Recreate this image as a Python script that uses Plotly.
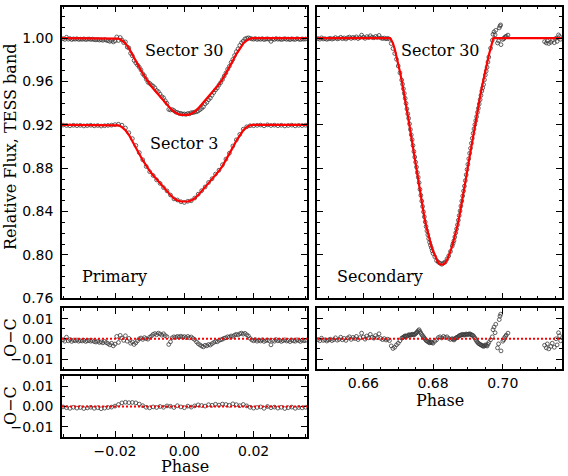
import plotly.graph_objects as go

# %% data -- primary eclipse, Sector 30 (phase, flux, O-C)
pri30_phase = [
    -0.0350, -0.0345, -0.0340, -0.0335, -0.0330, -0.0325, -0.0320, -0.0315, -0.0310, -0.0305,
    -0.0300, -0.0295, -0.0290, -0.0285, -0.0280, -0.0275, -0.0270, -0.0265, -0.0260, -0.0255,
    -0.0250, -0.0245, -0.0240, -0.0235, -0.0230, -0.0225, -0.0220, -0.0215, -0.0210, -0.0205,
    -0.0200, -0.0195, -0.0190, -0.0185, -0.0180, -0.0175, -0.0170, -0.0165, -0.0160, -0.0155,
    -0.0150, -0.0145, -0.0140, -0.0135, -0.0130, -0.0125, -0.0120, -0.0115, -0.0110, -0.0105,
    -0.0100, -0.0095, -0.0090, -0.0085, -0.0080, -0.0075, -0.0070, -0.0065, -0.0060, -0.0055,
    -0.0050, -0.0045, -0.0040, -0.0035, -0.0030, -0.0025, -0.0020, -0.0015, -0.0010, -0.0005,
    0.0000, 0.0005, 0.0010, 0.0015, 0.0020, 0.0025, 0.0030, 0.0035, 0.0040, 0.0045,
    0.0050, 0.0055, 0.0060, 0.0065, 0.0070, 0.0075, 0.0080, 0.0085, 0.0090, 0.0095,
    0.0100, 0.0105, 0.0110, 0.0115, 0.0120, 0.0125, 0.0130, 0.0135, 0.0140, 0.0145,
    0.0150, 0.0155, 0.0160, 0.0165, 0.0170, 0.0175, 0.0180, 0.0185, 0.0190, 0.0195,
    0.0200, 0.0205, 0.0210, 0.0215, 0.0220, 0.0225, 0.0230, 0.0235, 0.0240, 0.0245,
    0.0250, 0.0255, 0.0260, 0.0265, 0.0270, 0.0275, 0.0280, 0.0285, 0.0290, 0.0295,
    0.0300, 0.0305, 0.0310, 0.0315, 0.0320, 0.0325, 0.0330, 0.0335, 0.0340, 0.0345,
    0.0350]
pri30_flux = [
    0.9995, 0.9988, 1.0008, 0.9990, 0.9996, 0.9987, 0.9993, 0.9990, 0.9994, 0.9988,
    0.9991, 0.9989, 0.9993, 0.9987, 0.9990, 0.9992, 0.9988, 0.9991, 0.9986, 0.9984,
    0.9988, 0.9982, 0.9985, 0.9980, 0.9987, 0.9981, 0.9976, 0.9970, 0.9978, 0.9965,
    0.9974, 1.0011, 0.9978, 1.0006, 0.9983, 0.9958, 0.9965, 0.9918, 0.9910, 0.9860,
    0.9837, 0.9794, 0.9772, 0.9752, 0.9732, 0.9707, 0.9671, 0.9653, 0.9621, 0.9593,
    0.9583, 0.9569, 0.9557, 0.9542, 0.9517, 0.9506, 0.9484, 0.9460, 0.9450, 0.9422,
    0.9398, 0.9342, 0.9337, 0.9341, 0.9332, 0.9318, 0.9315, 0.9306, 0.9306, 0.9299,
    0.9301, 0.9297, 0.9305, 0.9302, 0.9312, 0.9313, 0.9318, 0.9321, 0.9328, 0.9340,
    0.9352, 0.9366, 0.9393, 0.9407, 0.9432, 0.9447, 0.9473, 0.9498, 0.9522, 0.9540,
    0.9567, 0.9590, 0.9618, 0.9650, 0.9679, 0.9713, 0.9740, 0.9776, 0.9804, 0.9840,
    0.9875, 0.9901, 0.9933, 0.9958, 0.9973, 0.9993, 0.9999, 1.0003, 0.9998, 0.9993,
    0.9990, 0.9996, 0.9988, 0.9993, 0.9989, 0.9995, 0.9987, 0.9991, 0.9994, 0.9990,
    0.9970, 0.9992, 0.9988, 0.9996, 0.9990, 0.9993, 0.9987, 0.9991, 0.9995, 0.9989,
    0.9992, 0.9986, 0.9994, 0.9990, 0.9988, 0.9995, 0.9991, 0.9987, 0.9993, 0.9990,
    0.9992]
pri30_oc = [
    -0.0005, -0.0012, 0.0008, -0.0010, -0.0004, -0.0013, -0.0007, -0.0010, -0.0006, -0.0012,
    -0.0009, -0.0011, -0.0007, -0.0013, -0.0010, -0.0008, -0.0012, -0.0009, -0.0014, -0.0016,
    -0.0012, -0.0018, -0.0015, -0.0020, -0.0013, -0.0019, -0.0024, -0.0030, -0.0022, -0.0035,
    -0.0026, 0.0012, -0.0018, 0.0017, 0.0004, -0.0008, 0.0015, -0.0012, 0.0002, -0.0022,
    -0.0016, -0.0028, -0.0020, -0.0010, 0.0000, 0.0004, -0.0003, 0.0006, 0.0001, -0.0002,
    0.0008, 0.0014, 0.0022, 0.0026, 0.0020, 0.0028, 0.0024, 0.0018, 0.0025, 0.0016,
    0.0010, -0.0028, -0.0015, 0.0005, 0.0010, 0.0007, 0.0012, 0.0009, 0.0013, 0.0008,
    0.0011, 0.0006, 0.0012, 0.0005, 0.0009, 0.0002, -0.0004, -0.0015, -0.0024, -0.0030,
    -0.0036, -0.0040, -0.0032, -0.0035, -0.0028, -0.0031, -0.0024, -0.0018, -0.0013, -0.0015,
    -0.0008, -0.0005, -0.0002, 0.0003, 0.0005, 0.0010, 0.0008, 0.0014, 0.0012, 0.0018,
    0.0022, 0.0019, 0.0025, 0.0028, 0.0023, 0.0027, 0.0020, 0.0014, 0.0002, -0.0006,
    -0.0010, -0.0004, -0.0012, -0.0007, -0.0011, -0.0005, -0.0013, -0.0009, -0.0006, -0.0010,
    -0.0030, -0.0008, -0.0012, -0.0004, -0.0010, -0.0007, -0.0013, -0.0009, -0.0005, -0.0011,
    -0.0008, -0.0014, -0.0006, -0.0010, -0.0012, -0.0005, -0.0009, -0.0013, -0.0007, -0.0010,
    -0.0008]

# %% primary eclipse, Sector 3
pri3_phase = [
    -0.035, -0.034, -0.033, -0.032, -0.031, -0.030, -0.029, -0.028, -0.027, -0.026,
    -0.025, -0.024, -0.023, -0.022, -0.021, -0.020, -0.019, -0.018, -0.017, -0.016,
    -0.015, -0.014, -0.013, -0.012, -0.011, -0.010, -0.009, -0.008, -0.007, -0.006,
    -0.005, -0.004, -0.003, -0.002, -0.001, 0.000, 0.001, 0.002, 0.003, 0.004,
    0.005, 0.006, 0.007, 0.008, 0.009, 0.010, 0.011, 0.012, 0.013, 0.014,
    0.015, 0.016, 0.017, 0.018, 0.019, 0.020, 0.021, 0.022, 0.023, 0.024,
    0.025, 0.026, 0.027, 0.028, 0.029, 0.030, 0.031, 0.032, 0.033, 0.034,
    0.035]
pri3_flux = [
    0.9198, 0.9194, 0.9191, 0.9196, 0.9192, 0.9195, 0.9190, 0.9193, 0.9196, 0.9191,
    0.9194, 0.9189, 0.9192, 0.9195, 0.9197, 0.9202, 0.9206, 0.9197, 0.9171, 0.9127,
    0.9073, 0.9010, 0.8944, 0.8878, 0.8816, 0.8768, 0.8733, 0.8692, 0.8660, 0.8621,
    0.8591, 0.8553, 0.8517, 0.8507, 0.8491, 0.8484, 0.8495, 0.8500, 0.8525, 0.8560,
    0.8593, 0.8627, 0.8669, 0.8703, 0.8746, 0.8782, 0.8832, 0.8884, 0.8938, 0.9005,
    0.9062, 0.9112, 0.9160, 0.9182, 0.9192, 0.9192, 0.9195, 0.9198, 0.9191, 0.9200,
    0.9194, 0.9197, 0.9192, 0.9196, 0.9190, 0.9194, 0.9197, 0.9191, 0.9195, 0.9193,
    0.9196]
pri3_oc = [
    -0.0002, -0.0006, -0.0009, -0.0004, -0.0008, -0.0005, -0.0010, -0.0007, -0.0004, -0.0009,
    -0.0006, -0.0011, -0.0008, -0.0005, -0.0003, 0.0002, 0.0010, 0.0018, 0.0021, 0.0019,
    0.0020, 0.0018, 0.0012, 0.0004, -0.0004, -0.0007, -0.0002, -0.0005, 0.0000, -0.0004,
    0.0003, 0.0001, -0.0005, 0.0004, -0.0002, -0.0006, 0.0002, -0.0003, 0.0003, 0.0008,
    0.0005, 0.0002, 0.0009, 0.0006, 0.0011, 0.0007, 0.0012, 0.0010, 0.0006, 0.0013,
    0.0009, 0.0004, 0.0010, 0.0003, -0.0004, -0.0008, -0.0005, -0.0002, -0.0009, 0.0000,
    -0.0006, -0.0003, -0.0008, -0.0004, -0.0010, -0.0006, -0.0003, -0.0009, -0.0005, -0.0007,
    -0.0004]

# %% model curves for the primary eclipse
model_pri_phase = [
    -0.036, -0.0198, -0.019, -0.018, -0.017, -0.016, -0.015, -0.014, -0.013, -0.012, -0.011,
    -0.010, -0.009, -0.008, -0.007, -0.006, -0.005, -0.004, -0.003, -0.002, -0.001,
    0.000, 0.001, 0.002, 0.003, 0.004, 0.005, 0.006, 0.007, 0.008, 0.009, 0.010,
    0.011, 0.012, 0.013, 0.014, 0.015, 0.016, 0.017, 0.018, 0.019, 0.0198, 0.036]
model_pri30 = [
    1.0000, 1.0000, 0.9996, 0.9979, 0.9950, 0.9908, 0.9853, 0.9792, 0.9732, 0.9674, 0.9620,
    0.9575, 0.9535, 0.9497, 0.9460, 0.9425, 0.9388, 0.9352, 0.9322, 0.9303, 0.9293,
    0.9290, 0.9293, 0.9303, 0.9322, 0.9352, 0.9388, 0.9425, 0.9460, 0.9497, 0.9535, 0.9575,
    0.9620, 0.9674, 0.9732, 0.9792, 0.9853, 0.9908, 0.9950, 0.9979, 0.9996, 1.0000, 1.0000]
model_pri3 = [
    0.9200, 0.9200, 0.9196, 0.9179, 0.9150, 0.9108, 0.9053, 0.8992, 0.8932, 0.8874, 0.8820,
    0.8775, 0.8735, 0.8697, 0.8660, 0.8625, 0.8588, 0.8552, 0.8522, 0.8503, 0.8493,
    0.8490, 0.8493, 0.8503, 0.8522, 0.8552, 0.8588, 0.8625, 0.8660, 0.8697, 0.8735, 0.8775,
    0.8820, 0.8874, 0.8932, 0.8992, 0.9053, 0.9108, 0.9150, 0.9179, 0.9196, 0.9200, 0.9200]

# %% secondary eclipse, Sector 30
sec_phase = [
    0.6470, 0.6475, 0.6480, 0.6485, 0.6490, 0.6495, 0.6500, 0.6505, 0.6510, 0.6515,
    0.6520, 0.6525, 0.6530, 0.6535, 0.6540, 0.6545, 0.6550, 0.6555, 0.6560, 0.6565,
    0.6570, 0.6575, 0.6580, 0.6585, 0.6590, 0.6595, 0.6600, 0.6605, 0.6610, 0.6615,
    0.6620, 0.6625, 0.6630, 0.6635, 0.6640, 0.6645, 0.6650, 0.6655, 0.6660, 0.6665,
    0.6670, 0.6675, 0.6680, 0.6685, 0.6690, 0.6695, 0.6700, 0.6705, 0.6710, 0.6715,
    0.6720, 0.6725, 0.6730, 0.6735, 0.6740, 0.6745, 0.6750, 0.6755, 0.6760, 0.6765,
    0.6770, 0.6775, 0.6780, 0.6785, 0.6790, 0.6795, 0.6800, 0.6805, 0.6810, 0.6815,
    0.6820, 0.6825, 0.6830, 0.6835, 0.6840, 0.6845, 0.6850, 0.6855, 0.6860, 0.6865,
    0.6870, 0.6875, 0.6880, 0.6885, 0.6890, 0.6895, 0.6900, 0.6905, 0.6910, 0.6915,
    0.6920, 0.6925, 0.6930, 0.6935, 0.6940, 0.6945, 0.6950, 0.6955, 0.6960, 0.6965,
    0.6970, 0.6975, 0.6980, 0.6985, 0.6990, 0.6995, 0.7000, 0.7005, 0.7010, 0.7015,
    0.67125, 0.67175, 0.67225, 0.67275, 0.67325, 0.67375, 0.67425, 0.67475, 0.67525,
    0.67575, 0.67625, 0.67675, 0.67725, 0.67775, 0.67825, 0.67875, 0.67925, 0.67975,
    0.68575, 0.68625, 0.68675, 0.68725, 0.68775, 0.68825, 0.68875, 0.68925, 0.68975,
    0.69025, 0.69075, 0.69125, 0.69175, 0.69225, 0.69275, 0.69325, 0.69375, 0.69425,
    0.69475, 0.69525, 0.69575,
    0.6972, 0.6978, 0.6988, 0.6992, 0.6994, 0.7003, 0.7008,
    0.7120, 0.7125, 0.7128, 0.7132, 0.7138, 0.7142, 0.7148, 0.7153, 0.7156, 0.7160,
    0.7163, 0.7166]
sec_flux = [
    0.9996, 0.9990, 1.0003, 0.9992, 0.9995, 0.9989, 0.9994, 0.9998, 0.9991, 0.9996,
    1.0005, 0.9993, 0.9997, 1.0008, 0.9995, 1.0002, 0.9992, 1.0004, 1.0010, 0.9997,
    1.0007, 1.0001, 1.0012, 0.9996, 1.0006, 1.0028, 1.0009, 0.9998, 1.0014, 1.0005,
    1.0022, 1.0008, 1.0003, 1.0016, 1.0006, 1.0025, 1.0002, 0.9996, 1.0001, 0.9994,
    0.9998, 0.9991, 0.9950, 0.9904, 0.9858, 0.9805, 0.9743, 0.9680, 0.9613, 0.9533,
    0.9445, 0.9347, 0.9260, 0.9157, 0.9063, 0.8954, 0.8856, 0.8760, 0.8667, 0.8550,
    0.8447, 0.8352, 0.8262, 0.8186, 0.8117, 0.8066, 0.8013, 0.7983, 0.7948, 0.7934,
    0.7924, 0.7914, 0.7926, 0.7935, 0.7963, 0.7992, 0.8032, 0.8083, 0.8131, 0.8204,
    0.8278, 0.8363, 0.8451, 0.8544, 0.8635, 0.8739, 0.8836, 0.8938, 0.9030, 0.9121,
    0.9202, 0.9276, 0.9353, 0.9432, 0.9512, 0.9572, 0.9660, 0.9732, 0.9825, 0.9907,
    0.9980, 1.0058, 1.0072, 0.9955, 1.0095, 0.9940, 0.9988, 1.0006, 1.0018, 1.0028,
    0.9575, 0.9490, 0.9398, 0.9302, 0.9210, 0.9108, 0.9010, 0.8903, 0.8810,
    0.8716, 0.8605, 0.8497, 0.8398, 0.8305, 0.8222, 0.8150, 0.8090, 0.8038,
    0.8106, 0.8166, 0.8240, 0.8320, 0.8406, 0.8497, 0.8590, 0.8686, 0.8788,
    0.8887, 0.8984, 0.9076, 0.9162, 0.9239, 0.9315, 0.9393, 0.9472, 0.9542,
    0.9616, 0.9696, 0.9779,
    1.0035, 1.0030, 0.9975, 1.0112, 1.0122, 0.9995, 1.0012,
    0.9968, 0.9955, 0.9975, 0.9950, 0.9962, 0.9978, 0.9958, 1.0000, 0.9970, 1.0030,
    1.0015, 0.9990]
sec_oc = [
    -0.0004, -0.0010, 0.0003, -0.0008, -0.0005, -0.0011, -0.0006, -0.0002, -0.0009, -0.0004,
    0.0005, -0.0007, -0.0003, 0.0008, -0.0005, 0.0002, -0.0008, 0.0004, 0.0010, -0.0003,
    0.0007, 0.0001, 0.0012, -0.0004, 0.0006, 0.0028, 0.0009, -0.0002, 0.0014, 0.0005,
    0.0022, 0.0008, 0.0003, 0.0016, 0.0006, 0.0025, 0.0002, -0.0004, 0.0001, -0.0006,
    -0.0002, -0.0009, -0.0035, -0.0048, -0.0042, -0.0030, -0.0022, -0.0010, 0.0003, 0.0008,
    0.0015, 0.0012, 0.0020, 0.0017, 0.0023, 0.0019, 0.0026, 0.0035, 0.0045, 0.0028,
    0.0015, 0.0004, -0.0008, -0.0014, -0.0020, -0.0016, -0.0022, -0.0012, -0.0005, 0.0006,
    0.0010, 0.0004, 0.0012, 0.0007, 0.0010, 0.0002, -0.0003, 0.0001, -0.0006, 0.0004,
    0.0008, 0.0015, 0.0019, 0.0022, 0.0018, 0.0024, 0.0021, 0.0025, 0.0020, 0.0016,
    0.0004, -0.0012, -0.0022, -0.0028, -0.0033, -0.0038, -0.0030, -0.0036, -0.0018, -0.0005,
    0.0010, 0.0058, 0.0072, -0.0045, 0.0095, -0.0060, -0.0012, 0.0006, 0.0018, 0.0028,
    0.0005, 0.0012, 0.0013, 0.0016, 0.0019, 0.0020, 0.0021, 0.0022, 0.0030,
    0.0040, 0.0036, 0.0021, 0.0010, -0.0002, -0.0011, -0.0017, -0.0018, -0.0019,
    -0.0002, -0.0001, 0.0006, 0.0011, 0.0017, 0.0020, 0.0020, 0.0021, 0.0022,
    0.0023, 0.0022, 0.0018, 0.0010, -0.0004, -0.0017, -0.0025, -0.0030, -0.0035,
    -0.0034, -0.0033, -0.0027,
    0.0045, 0.0030, -0.0025, 0.0112, 0.0122, -0.0005, 0.0012,
    -0.0032, -0.0045, -0.0025, -0.0050, -0.0038, -0.0022, -0.0042, 0.0000, -0.0030, 0.0030,
    0.0015, -0.0010]

model_sec_phase = [
    0.6460, 0.6676, 0.6680, 0.6685, 0.6690, 0.6695, 0.6700, 0.6705, 0.6710, 0.6715,
    0.6720, 0.6725, 0.6730, 0.6735, 0.6740, 0.6745, 0.6750, 0.6755, 0.6760, 0.6765,
    0.6770, 0.6775, 0.6780, 0.6785, 0.6790, 0.6795, 0.6800, 0.6805, 0.6810, 0.6815,
    0.6820, 0.6825, 0.6830, 0.6835, 0.6840, 0.6845, 0.6850, 0.6855, 0.6860, 0.6865,
    0.6870, 0.6875, 0.6880, 0.6885, 0.6890, 0.6895, 0.6900, 0.6905, 0.6910, 0.6915,
    0.6920, 0.6925, 0.6930, 0.6935, 0.6940, 0.6945, 0.6950, 0.6955, 0.6960, 0.6965,
    0.6970, 0.6973, 0.7180]
model_sec = [
    1.0000, 1.0000, 0.9985, 0.9952, 0.9900, 0.9835, 0.9765, 0.9690, 0.9610, 0.9525,
    0.9430, 0.9335, 0.9240, 0.9140, 0.9040, 0.8935, 0.8830, 0.8725, 0.8622, 0.8522,
    0.8432, 0.8348, 0.8270, 0.8200, 0.8137, 0.8082, 0.8035, 0.7995, 0.7953, 0.7928,
    0.7914, 0.7910, 0.7914, 0.7928, 0.7953, 0.7990, 0.8035, 0.8082, 0.8137, 0.8200,
    0.8270, 0.8348, 0.8432, 0.8522, 0.8617, 0.8715, 0.8815, 0.8913, 0.9010, 0.9105,
    0.9198, 0.9288, 0.9375, 0.9460, 0.9545, 0.9610, 0.9690, 0.9768, 0.9843, 0.9912,
    0.9970, 1.0000, 1.0000]

# %% figure
W, H = 568, 476
RED = "#ff0000"
PT = dict(symbol="circle-open", size=3.8, color="#3a3a3a", line=dict(width=0.8, color="#3a3a3a"))
SERIF = "DejaVu Serif"
SANS = "DejaVu Sans"

fig = go.Figure()

def pts(x, y, xa, ya):
    fig.add_trace(go.Scatter(x=x, y=y, mode="markers", marker=PT, xaxis=xa, yaxis=ya,
                             showlegend=False, hoverinfo="skip"))

def model(x, y, xa, ya):
    fig.add_trace(go.Scatter(x=x, y=y, mode="lines", line=dict(color=RED, width=2.2),
                             xaxis=xa, yaxis=ya, showlegend=False, hoverinfo="skip"))

pts(pri30_phase, pri30_flux, "x", "y")
pts(pri3_phase, pri3_flux, "x", "y")
model(model_pri_phase, model_pri30, "x", "y")
model(model_pri_phase, model_pri3, "x", "y")
pts(sec_phase, sec_flux, "x2", "y2")
model(model_sec_phase, model_sec, "x2", "y2")
pts(pri30_phase, pri30_oc, "x3", "y3")
pts(sec_phase, sec_oc, "x4", "y4")
pts(pri3_phase, pri3_oc, "x5", "y5")

def ax(domain, rng, dtick, minor, labels, tick0=0, anchor=None, standoff=0):
    return dict(domain=domain, range=rng, dtick=dtick, tick0=tick0, anchor=anchor,
                showline=True, linecolor="black", linewidth=1.5, mirror="ticks",
                ticks="inside", ticklen=6, tickwidth=1.1, tickcolor="black",
                minor=dict(ticks="inside", ticklen=3, tickwidth=1.1, tickcolor="black", dtick=minor),
                showgrid=False, zeroline=False, showticklabels=labels, tickformat=".2f",
                ticklabelstandoff=standoff,
                tickfont=dict(family=SANS, size=14, color="black"))

xL = [62 / W, 307 / W]
xR = [317 / W, 562 / W]
yTop = [1 - 298.3 / H, 1 - 6.7 / H]
yMid = [1 - 369.3 / H, 1 - 308.3 / H]
yBot = [1 - 437 / H, 1 - 376 / H]
xrL = [-0.0353, 0.0354]
xrR = [0.6467, 0.7170]
yrT = [0.76, 1.029]
yrO = [-0.0151, 0.0151]

fig.update_layout(
    width=W, height=H, autosize=False,
    margin=dict(l=0, r=0, t=0, b=0, autoexpand=False),
    plot_bgcolor="white", paper_bgcolor="white",
    xaxis=ax(xL, xrL, 0.02, 0.005, False, anchor="y"),
    yaxis=ax(yTop, yrT, 0.04, 0.01, True, tick0=0.76, anchor="x", standoff=4),
    xaxis2=ax(xR, xrR, 0.02, 0.005, False, tick0=0.66, anchor="y2"),
    yaxis2=ax(yTop, yrT, 0.04, 0.01, False, tick0=0.76, anchor="x2"),
    xaxis3=ax(xL, xrL, 0.02, 0.005, False, anchor="y3"),
    yaxis3=ax(yMid, yrO, 0.01, 0.005, True, anchor="x3", standoff=4),
    xaxis4=ax(xR, xrR, 0.02, 0.005, True, tick0=0.66, anchor="y4", standoff=0),
    yaxis4=ax(yMid, yrO, 0.01, 0.005, False, anchor="x4"),
    xaxis5=ax(xL, xrL, 0.02, 0.005, True, anchor="y5", standoff=0),
    yaxis5=ax(yBot, yrO, 0.01, 0.005, True, anchor="x5", standoff=4),
)

# red dotted zero lines in the O-C panels
for xa, ya in [("x3", "y3"), ("x4", "y4"), ("x5", "y5")]:
    fig.add_shape(type="line", xref=xa + " domain", yref=ya, x0=0, x1=1, y0=0, y1=0,
                  line=dict(color=RED, width=2, dash="2px,2px"))

def label(text, x, y, xref="paper", yref="paper", angle=0, size=16, xanchor="center"):
    fig.add_annotation(text=text, x=x, y=y, xref=xref, yref=yref, textangle=angle,
                       showarrow=False, xanchor=xanchor, yanchor="middle",
                       font=dict(family=SERIF, size=size, color="black"))

label("Sector 30", 0.0, 0.9883, "x", "y")
label("Sector 3", 0.0, 0.9024, "x", "y")
label("Primary", -0.0301, 0.7797, "x", "y", xanchor="left")
label("Sector 30", 0.6821, 0.9883, "x2", "y2")
label("Secondary", 0.6519, 0.7797, "x2", "y2", xanchor="left")
label("Relative Flux, TESS band", 10 / W, 1 - 147 / H, angle=-90)
label("O\u2212C", 10 / W, 1 - 338 / H, angle=-90)
label("O\u2212C", 10 / W, 1 - 406 / H, angle=-90)
label("Phase", 185 / W, 1 - 466 / H)
label("Phase", 440 / W, 1 - 400 / H)

# the page's default body margin would shift the figure by 8px
fig.write_html("out.html", config={"responsive": False, "displayModeBar": False},
               post_script="document.body.style.margin='0';document.body.style.overflow='hidden';")
